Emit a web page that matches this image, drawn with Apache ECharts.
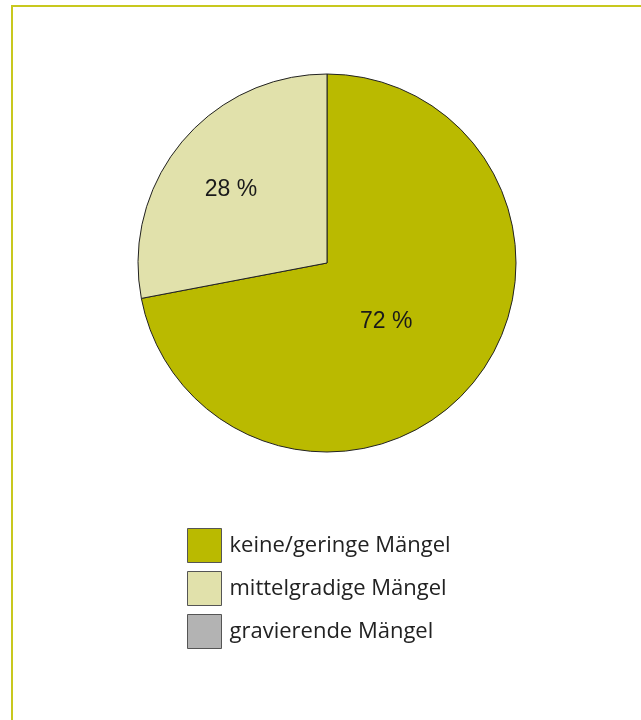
<!DOCTYPE html>
<html>
<head>
<meta charset="utf-8">
<script src="https://cdn.jsdelivr.net/npm/echarts@6/dist/echarts.min.js"></script>
<style>
html,body{margin:0;padding:0;background:#fff;}
#chart{width:641px;height:720px;}
</style>
</head>
<body>
<div id="chart"></div>
<script>
const categories = ['keine/geringe Mängel', 'mittelgradige Mängel', 'gravierende Mängel'];
const values = [72, 28, 0];
const colors = ['#baba00', '#e1e1ab', '#b3b3b3'];
const labelShift = [[-16, -3], [-21, -11], [0, 0]];

const chart = echarts.init(document.getElementById('chart'), null, {renderer: 'canvas'});
const data = categories.map((name, i) => ({
  name: name,
  value: values[i],
  itemStyle: {
    color: colors[i],
    borderColor: '#222',
    borderWidth: values[i] > 0 ? 1 : 0
  },
  label: {show: values[i] > 0}
}));

chart.setOption({
  animation: false,
  backgroundColor: '#fff',
  graphic: [{
    type: 'rect',
    shape: {x: 12, y: 6, width: 800, height: 800},
    style: {fill: 'none', stroke: '#c8c81e', lineWidth: 2},
    silent: true
  }],
  legend: {
    orient: 'vertical',
    left: 187,
    top: 528,
    padding: 0,
    icon: 'rect',
    itemWidth: 34,
    itemHeight: 34,
    itemGap: 8,
    selectedMode: false,
    itemStyle: {borderColor: '#555', borderWidth: 1},
    textStyle: {
      fontFamily: 'Open Sans',
      fontSize: 22,
      color: '#222',
      padding: [2, 0, 0, 3]
    },
    data: categories
  },
  series: [{
    type: 'pie',
    center: [327, 263],
    radius: 189,
    startAngle: 90,
    clockwise: true,
    silent: true,
    avoidLabelOverlap: false,
    label: {
      position: 'inside',
      formatter: p => p.value + ' %',
      fontFamily: 'Liberation Sans',
      fontSize: 23,
      color: '#1a1a1a'
    },
    labelLine: {show: false},
    labelLayout: function (params) {
      const s = labelShift[params.dataIndex] || [0, 0];
      return {dx: s[0], dy: s[1]};
    },
    data: data
  }]
});
</script>
</body>
</html>
